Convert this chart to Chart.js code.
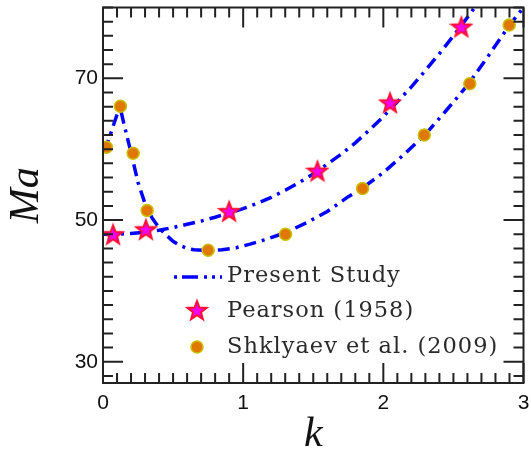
<!DOCTYPE html>
<html>
<head>
<meta charset="utf-8">
<script src="https://cdn.jsdelivr.net/npm/chart.js@4.4.1/dist/chart.umd.min.js"></script>
<style>
  body { margin: 0; background: #fff; }
  #wrap { width: 531px; height: 452px; }
</style>
</head>
<body>
<div id="wrap"><canvas id="maChart"></canvas></div>
<script>
// present study, first branch (through the Shklyaev points)
var present1K  = [0.01, 0.06, 0.12, 0.15, 0.20, 0.25, 0.30, 0.35, 0.40, 0.45, 0.50, 0.55, 0.60, 0.65, 0.75, 0.85, 0.95, 1.05, 1.15, 1.30, 1.45, 1.60, 1.75, 1.85, 2.00, 2.15, 2.30, 2.45, 2.60, 2.75, 2.90, 3.00];
var present1Ma = [59.7, 62.5, 66.1, 63.5, 59.5, 55.3, 52.3, 50.3, 48.9, 47.9, 47.0, 46.4, 46.0, 45.8, 45.7, 45.8, 46.1, 46.6, 47.2, 48.2, 49.6, 51.2, 53.3, 54.5, 56.7, 59.3, 62.1, 65.5, 69.0, 73.2, 77.5, 80.0];
// present study, second branch (through the Pearson points)
var present2K  = [0.0, 0.1, 0.2, 0.3, 0.4, 0.5, 0.6, 0.7, 0.8, 0.9, 1.0, 1.1, 1.2, 1.3, 1.4, 1.5, 1.6, 1.7, 1.8, 1.9, 2.0, 2.1, 2.2, 2.3, 2.4, 2.5, 2.6, 2.7];
var present2Ma = [48.0, 48.0, 48.1, 48.3, 48.55, 48.95, 49.4, 49.85, 50.4, 51.0, 51.6, 52.35, 53.2, 54.2, 55.3, 56.5, 57.9, 59.3, 60.9, 62.7, 64.6, 66.7, 68.8, 71.1, 73.5, 76.0, 78.6, 81.3];

var pearsonK  = [0.072, 0.306, 0.90, 1.53, 2.048, 2.557];
var pearsonMa = [48.0, 48.7, 51.26, 56.96, 66.6, 77.3];

var shklyaevK  = [0.024, 0.124, 0.215, 0.315, 0.75, 1.302, 1.852, 2.292, 2.617, 2.898];
var shklyaevMa = [60.28, 66.07, 59.44, 51.36, 45.75, 47.99, 54.44, 62.0, 69.25, 77.52];

var yTickValues = [30, 50, 70];
var xTickValues = [0, 1, 2, 3];

function pts(xs, ys) {
    return xs.map(function(v, i) { return {x: v, y: ys[i]}; });
}

var blue = '#0000ff';
var dashDot = [12, 6, 3, 6];

// filled star marker
var star = document.createElement('canvas');
star.width = 24; star.height = 24;
(function() {
    var c = star.getContext('2d');
    c.beginPath();
    for (var i = 0; i < 10; i++) {
        var r = i % 2 === 0 ? 10 : 4.2;
        var a = -Math.PI / 2 + i * Math.PI / 5;
        c.lineTo(12 + r * Math.cos(a), 13 + r * Math.sin(a));
    }
    c.closePath();
    c.fillStyle = '#f200f2';
    c.fill();
    c.lineWidth = 2;
    c.strokeStyle = '#ff1030';
    c.stroke();
})();

var frameTicks = {
    id: 'frameTicks',
    afterDatasetsDraw: function(chart) {
        var ctx = chart.ctx, a = chart.chartArea;
        var x = chart.scales.x, y = chart.scales.y;
        ctx.save();
        ctx.strokeStyle = '#222';
        ctx.lineWidth = 2;
        ctx.beginPath();
        for (var i = 0; i <= 30; i++) {
            var px = x.getPixelForValue(i / 10);
            var len = i % 10 === 0 ? 20 : 10;
            ctx.moveTo(px, a.bottom); ctx.lineTo(px, a.bottom - len);
            ctx.moveTo(px, a.top); ctx.lineTo(px, a.top + len);
        }
        for (var v = 28; v <= 80; v += 2) {
            var py = y.getPixelForValue(v);
            var l = (v - 10) % 20 === 0 ? 20 : 10;
            ctx.moveTo(a.left, py); ctx.lineTo(a.left + l, py);
            ctx.moveTo(a.right, py); ctx.lineTo(a.right - l, py);
        }
        ctx.stroke();
        ctx.strokeRect(a.left, a.top, a.right - a.left, a.bottom - a.top);
        ctx.restore();
    }
};

var innerLegend = {
    id: 'innerLegend',
    afterDraw: function(chart) {
        var ctx = chart.ctx;
        var lx = 174, tx = 227, rows = [276, 311, 347];
        ctx.save();
        ctx.font = '22.5px "DejaVu Serif"';
        ctx.letterSpacing = '1px';
        ctx.fillStyle = '#2a2a2a';
        ctx.textBaseline = 'middle';
        ctx.fillText('Present Study', tx, rows[0]);
        ctx.fillText('Pearson (1958)', tx, rows[1]);
        ctx.fillText('Shklyaev et al. (2009)', tx, rows[2]);

        ctx.strokeStyle = blue;
        ctx.lineWidth = 3.5;
        ctx.setLineDash([3, 5, 16, 6, 3, 5]);
        ctx.beginPath();
        ctx.moveTo(lx, rows[0] + 1); ctx.lineTo(lx + 48, rows[0] + 1);
        ctx.stroke();
        ctx.setLineDash([]);

        ctx.drawImage(star, 197 - 12, rows[1] - 13);

        ctx.beginPath();
        ctx.arc(197, rows[2], 6, 0, Math.PI * 2);
        ctx.fillStyle = '#e07800';
        ctx.fill();
        ctx.lineWidth = 1.5;
        ctx.strokeStyle = '#c8c000';
        ctx.stroke();
        ctx.restore();
    }
};

var ctx = document.getElementById('maChart').getContext('2d');
var maChart = new Chart(ctx, {
    type: 'scatter',
    data: {
        datasets: [{
            label: 'Shklyaev et al. (2009)',
            data: pts(shklyaevK, shklyaevMa),
            pointStyle: 'circle',
            pointRadius: 6,
            backgroundColor: '#e07800',
            borderColor: '#c8c000',
            pointBorderWidth: 1.5,
            order: 1
        }, {
            label: 'Pearson (1958)',
            data: pts(pearsonK, pearsonMa),
            pointStyle: star,
            order: 2
        }, {
            label: 'Present Study',
            data: pts(present1K, present1Ma),
            showLine: true,
            borderColor: blue,
            borderWidth: 3.5,
            borderDash: dashDot,
            pointRadius: 0,
            clip: 0,
            order: 3
        }, {
            label: 'Present Study',
            data: pts(present2K, present2Ma),
            showLine: true,
            borderColor: blue,
            borderWidth: 3.5,
            borderDash: dashDot,
            pointRadius: 0,
            clip: 0,
            order: 4
        }]
    },
    options: {
        responsive: true,
        maintainAspectRatio: false,
        animation: false,
        layout: {
            padding: { left: 0, right: 3, top: 6, bottom: 0 }
        },
        plugins: {
            legend: { display: false },
            tooltip: { enabled: false }
        },
        scales: {
            x: {
                type: 'linear',
                min: 0,
                max: 3,
                grid: { display: false, drawTicks: false },
                border: { display: false },
                afterBuildTicks: function(s) {
                    s.ticks = xTickValues.map(function(v) { return {value: v}; });
                },
                afterFit: function(s) {
                    s.height = 69;
                    s.paddingLeft = 0;
                    s.paddingRight = 0;
                },
                ticks: {
                    padding: 8,
                    color: '#111',
                    font: { family: 'Liberation Sans', size: 21 }
                },
                title: {
                    display: true,
                    text: 'k',
                    color: '#111',
                    padding: { top: 0, bottom: -4 },
                    font: { family: 'Liberation Serif', style: 'italic', size: 42, lineHeight: 1 }
                }
            },
            y: {
                type: 'linear',
                min: 27,
                max: 80,
                grid: { display: false, drawTicks: false },
                border: { display: false },
                afterBuildTicks: function(s) {
                    s.ticks = yTickValues.map(function(v) { return {value: v}; });
                },
                afterFit: function(s) {
                    s.width = 103;
                    s.paddingTop = 0;
                    s.paddingBottom = 0;
                },
                ticks: {
                    padding: 5,
                    color: '#111',
                    font: { family: 'Liberation Sans', size: 21 }
                },
                title: {
                    display: true,
                    text: 'Ma',
                    color: '#111',
                    padding: { top: 6, bottom: 0 },
                    font: { family: 'Liberation Serif', style: 'italic', size: 42, lineHeight: 1 }
                }
            }
        }
    },
    plugins: [frameTicks, innerLegend]
});
</script>
</body>
</html>
